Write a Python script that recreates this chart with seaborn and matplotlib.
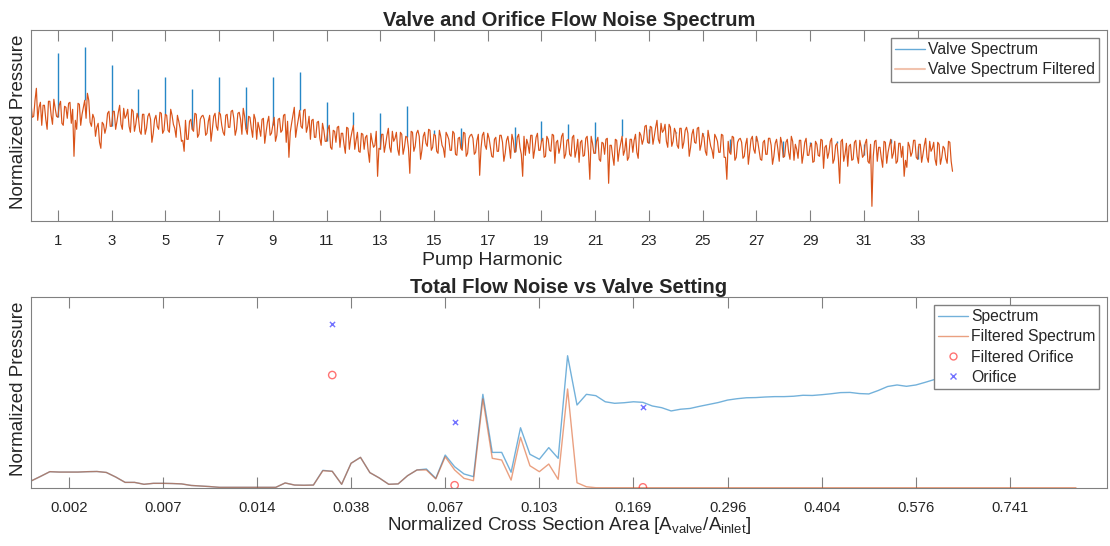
import numpy as np
import pandas as pd
import matplotlib
matplotlib.use("Agg")
import matplotlib.pyplot as plt
import seaborn as sns
from matplotlib.lines import Line2D

# ---------------- top panel data ----------------
harmonic_step = 0.05  # spectral resolution in pump harmonics
filtered_levels = [
    118, 104, 105, 121, 133, 101, 114, 119, 96, 116, 116, 102, 92, 120, 120, 106, 97, 122, 113, 105,
    104, 116, 120, 98, 96, 115, 114, 103, 118, 119, 98, 112, 65, 101, 92, 118, 117, 96, 107, 114,
    121, 103, 128, 121, 99, 95, 107, 103, 85, 94, 98, 79, 73, 99, 97, 88, 94, 108, 110, 95,
    95, 110, 110, 92, 100, 109, 116, 97, 92, 113, 103, 106, 112, 95, 89, 112, 110, 90, 97, 108,
    103, 90, 87, 107, 107, 87, 93, 105, 108, 102, 79, 88, 102, 106, 95, 92, 109, 108, 88, 91,
    107, 106, 91, 89, 112, 106, 97, 93, 84, 106, 100, 93, 80, 81, 70, 101, 82, 82, 100, 102,
    92, 90, 108, 107, 84, 87, 102, 105, 106, 102, 86, 88, 100, 106, 80, 92, 105, 108, 95, 91,
    109, 107, 96, 89, 86, 106, 107, 94, 94, 110, 111, 103, 86, 92, 108, 109, 102, 87, 113, 105,
    92, 87, 105, 104, 93, 84, 107, 102, 82, 99, 93, 85, 102, 103, 78, 89, 99, 105, 86, 88,
    96, 104, 80, 86, 102, 103, 89, 91, 106, 107, 79, 100, 64, 89, 98, 106, 114, 84, 94, 102,
    111, 95, 93, 111, 112, 89, 95, 105, 82, 101, 102, 84, 84, 99, 100, 83, 76, 98, 91, 80,
    80, 92, 96, 74, 72, 91, 90, 79, 94, 95, 74, 88, 88, 77, 68, 94, 93, 72, 83, 90,
    96, 72, 81, 89, 70, 69, 88, 87, 72, 84, 86, 70, 59, 88, 80, 74, 76, 90, 45, 73,
    72, 87, 87, 69, 77, 86, 93, 74, 69, 90, 80, 83, 89, 72, 66, 89, 87, 67, 74, 85,
    84, 73, 48, 90, 89, 70, 75, 88, 91, 85, 62, 71, 85, 89, 78, 75, 92, 91, 71, 74,
    87, 86, 70, 68, 91, 85, 76, 73, 64, 89, 86, 82, 71, 71, 90, 88, 67, 66, 83, 84,
    73, 71, 89, 88, 65, 68, 83, 86, 87, 83, 67, 69, 81, 87, 46, 73, 86, 89, 76, 72,
    88, 83, 74, 65, 64, 82, 84, 70, 70, 86, 86, 79, 60, 68, 81, 85, 75, 63, 87, 81,
    69, 70, 84, 87, 74, 67, 45, 85, 66, 82, 77, 68, 86, 86, 63, 72, 84, 88, 71, 71,
    80, 83, 64, 65, 85, 82, 71, 70, 87, 86, 58, 79, 81, 68, 74, 85, 88, 63, 67, 81,
    82, 67, 65, 84, 86, 64, 71, 82, 59, 79, 81, 65, 66, 83, 85, 69, 42, 85, 78, 68,
    68, 80, 84, 62, 60, 79, 78, 67, 82, 83, 38, 76, 76, 65, 56, 82, 81, 60, 71, 78,
    85, 66, 71, 83, 61, 64, 82, 82, 69, 81, 87, 69, 63, 89, 86, 77, 82, 95, 96, 79,
    78, 95, 94, 77, 85, 94, 101, 82, 78, 98, 89, 91, 97, 80, 74, 97, 94, 75, 80, 93,
    89, 76, 73, 93, 93, 73, 79, 91, 94, 88, 65, 74, 87, 92, 79, 78, 93, 94, 71, 77,
    88, 84, 70, 66, 91, 83, 75, 71, 63, 87, 84, 80, 69, 69, 87, 86, 64, 64, 42, 80,
    69, 67, 85, 84, 61, 64, 79, 82, 83, 79, 63, 65, 77, 83, 57, 69, 82, 85, 72, 68,
    85, 80, 71, 62, 61, 79, 81, 67, 67, 83, 83, 76, 57, 65, 78, 82, 72, 60, 84, 78,
    64, 65, 79, 82, 69, 62, 85, 80, 61, 77, 72, 63, 81, 81, 58, 67, 79, 83, 66, 66,
    75, 78, 59, 60, 80, 77, 66, 65, 82, 81, 53, 74, 76, 63, 69, 80, 83, 58, 62, 76,
    78, 63, 38, 80, 82, 60, 67, 78, 55, 75, 77, 61, 62, 79, 81, 65, 58, 81, 74, 64,
    66, 78, 82, 60, 58, 77, 15, 65, 80, 81, 60, 74, 74, 63, 54, 80, 79, 58, 69, 76,
    82, 63, 68, 80, 58, 60, 78, 78, 64, 75, 45, 61, 54, 79, 75, 65, 69, 81, 81, 64,
    62, 77, 77, 59, 67, 76, 83, 64, 59, 80, 70, 73, 79, 62, 56, 79, 77, 57, 64, 75,
    73, 63, 58, 80, 79, 60, 50,
]
harmonics = list(range(1, 35))
spike_levels = [168, 174, 156, 132, 144, 132, 144, 134, 144, 149,
                119, 109, 108, 115, 91, 93, 88, 94, 100, 97,
                99, 102, 92, 88, 87, 82, 80, 80, 79, 80,
                77, 78, 75, 73]
top_ticks = list(range(1, 35, 2))

# ---------------- bottom panel data ----------------
area_labels = ["0.002", "0.007", "0.014", "0.038", "0.067", "0.103",
               "0.169", "0.296", "0.404", "0.576", "0.741"]
spectrum = [
    0.038, 0.062, 0.087, 0.085, 0.085, 0.085, 0.087, 0.088, 0.083, 0.059,
    0.031, 0.031, 0.021, 0.026, 0.026, 0.025, 0.023, 0.015, 0.012, 0.009,
    0.005, 0.005, 0.005, 0.005, 0.005, 0.005, 0.005, 0.028, 0.017, 0.016,
    0.017, 0.094, 0.089, 0.021, 0.131, 0.162, 0.082, 0.054, 0.021, 0.023,
    0.066, 0.096, 0.101, 0.052, 0.174, 0.113, 0.075, 0.061, 0.492, 0.188,
    0.188, 0.084, 0.317, 0.178, 0.152, 0.213, 0.157, 0.694, 0.436, 0.492,
    0.485, 0.453, 0.445, 0.448, 0.453, 0.450, 0.431, 0.422, 0.405, 0.414,
    0.418, 0.429, 0.439, 0.449, 0.462, 0.469, 0.474, 0.475, 0.478, 0.480,
    0.480, 0.482, 0.487, 0.486, 0.490, 0.495, 0.501, 0.502, 0.496, 0.494,
    0.512, 0.533, 0.541, 0.534, 0.541, 0.555, 0.570, 0.575, 0.580, 0.585,
    0.590, 0.593, 0.596, 0.600, 0.600, 0.605, 0.610, 0.612, 0.615, 0.620,
    0.620, 0.625,
]
filtered_spectrum = [
    0.038, 0.062, 0.087, 0.085, 0.085, 0.085, 0.087, 0.088, 0.083, 0.059,
    0.031, 0.031, 0.021, 0.026, 0.026, 0.025, 0.023, 0.015, 0.012, 0.009,
    0.005, 0.005, 0.005, 0.005, 0.005, 0.005, 0.005, 0.028, 0.017, 0.016,
    0.017, 0.092, 0.089, 0.021, 0.131, 0.162, 0.082, 0.054, 0.021, 0.023,
    0.066, 0.096, 0.096, 0.049, 0.165, 0.096, 0.052, 0.040, 0.468, 0.157,
    0.148, 0.043, 0.267, 0.118, 0.087, 0.127, 0.047, 0.520, 0.029, 0.008,
    0.003, 0.003, 0.003, 0.003, 0.003, 0.003, 0.003, 0.003, 0.003, 0.003,
    0.003, 0.003, 0.003, 0.003, 0.003, 0.003, 0.003, 0.003, 0.003, 0.003,
    0.003, 0.003, 0.003, 0.003, 0.003, 0.003, 0.003, 0.003, 0.003, 0.003,
    0.003, 0.003, 0.003, 0.003, 0.003, 0.003, 0.003, 0.003, 0.003, 0.003,
    0.003, 0.003, 0.003, 0.003, 0.003, 0.003, 0.003, 0.003, 0.003, 0.003,
    0.003, 0.003,
]
orifice_setting = [32, 45, 65]
orifice = [0.859, 0.349, 0.427]
filtered_orifice = [0.593, 0.016, 0.005]

# ---------------- styling ----------------
sns.set_style("white")
plt.rcParams["font.family"] = ["Liberation Sans", "DejaVu Sans"]
plt.rcParams["mathtext.fontset"] = "custom"
plt.rcParams["mathtext.rm"] = "Liberation Sans"
plt.rcParams["mathtext.it"] = "Liberation Sans:italic"

BLUE = "#0072BD"
ORANGE = "#D95319"
GRAY = "#808080"
TXT = "#262626"

W, H = 1110, 546
fig = plt.figure(figsize=(W / 100, H / 100), dpi=100)
ax1 = fig.add_axes([31 / W, (H - 221.3) / H, 1076 / W, 191 / H])
ax2 = fig.add_axes([31 / W, (H - 488.3) / H, 1076 / W, 191 / H])

# ---------------- top panel ----------------
df_top = pd.DataFrame({"harmonic": np.arange(len(filtered_levels)) * harmonic_step,
                       "level": filtered_levels})
base_levels = [filtered_levels[int(round(h / harmonic_step))] for h in harmonics]
ax1.vlines(harmonics, base_levels, spike_levels, color=BLUE, lw=1.0, alpha=0.85, zorder=1)
sns.lineplot(data=df_top, x="harmonic", y="level", ax=ax1, color=ORANGE, lw=0.85,
             estimator=None, sort=False, zorder=2)
ax1.set_xlim(0, 40.05)
ax1.set_ylim(0, 191)
ax1.set_xticks(top_ticks)
ax1.set_xticklabels([str(t) for t in top_ticks])
ax1.set_title("Valve and Orifice Flow Noise Spectrum", fontsize=14.5, fontweight="bold", pad=3)
ax1.set_xlabel("Pump Harmonic", fontsize=14, color=TXT)
ax1.xaxis.set_label_coords((492 - 31) / 1076, -0.16)
h_top = [Line2D([], [], color=BLUE, alpha=0.6, lw=1.0),
         Line2D([], [], color=ORANGE, alpha=0.35, lw=1.5)]
ax1.legend(h_top, ["Valve Spectrum", "Valve Spectrum Filtered"], loc="upper right",
           bbox_to_anchor=(1099.3 / W, 1 - 38.3 / H), bbox_transform=fig.transFigure,
           borderaxespad=0, frameon=True, fancybox=False, edgecolor=GRAY, framealpha=1,
           fontsize=11.3, handlelength=1.9, handletextpad=0.2, borderpad=0.26,
           labelspacing=0.325)

# ---------------- bottom panel ----------------
df_bot = pd.DataFrame({"setting": np.arange(len(spectrum)),
                       "Spectrum": spectrum, "Filtered": filtered_spectrum})
sns.lineplot(data=df_bot, x="setting", y="Spectrum", ax=ax2, color=BLUE, alpha=0.55,
             lw=1.0, estimator=None)
sns.lineplot(data=df_bot, x="setting", y="Filtered", ax=ax2, color=ORANGE, alpha=0.55,
             lw=1.0, estimator=None)
sns.scatterplot(x=orifice_setting, y=filtered_orifice, ax=ax2, marker="o", s=28,
                facecolor="none", edgecolor=(1, 0, 0, 0.55), linewidth=1.0, zorder=3)
sns.scatterplot(x=orifice_setting, y=orifice, ax=ax2, marker="x", s=14,
                color=(0, 0, 1, 0.55), linewidth=1.0, zorder=3)
ax2.set_xlim(0, 114.3)
ax2.set_ylim(0, 1)
ax2.set_xticks(list(range(4, 105, 10)))
ax2.set_xticklabels(area_labels)
ax2.set_title("Total Flow Noise vs Valve Setting", fontsize=14.5, fontweight="bold", pad=3)
ax2.set_xlabel(r"Normalized Cross Section Area [A$_{\mathrm{valve}}$/A$_{\mathrm{inlet}}$]",
               fontsize=13.5, color=TXT)
ax2.xaxis.set_label_coords(0.5, -0.14)
h_bot = [Line2D([], [], color=BLUE, alpha=0.55, lw=1.0),
         Line2D([], [], color=ORANGE, alpha=0.55, lw=1.0),
         Line2D([], [], ls="none", marker="o", mfc="none", mec=(1, 0, 0, 0.55), ms=5),
         Line2D([], [], ls="none", marker="x", color=(0, 0, 1, 0.55), ms=4)]
ax2.legend(h_bot, ["Spectrum", "Filtered Spectrum", "Filtered Orifice", "Orifice"],
           loc="upper right", bbox_to_anchor=(1099.3 / W, 1 - 305.3 / H),
           bbox_transform=fig.transFigure, borderaxespad=0, frameon=True, fancybox=False,
           edgecolor=GRAY, framealpha=1, fontsize=11.3, handlelength=1.9,
           handletextpad=0.2, borderpad=0.26, labelspacing=0.325)

for ax in (ax1, ax2):
    ax.set_yticks([])
    ax.set_ylabel("Normalized Pressure", fontsize=13.5, color=TXT)
    ax.yaxis.set_label_coords(-0.004, 0.52)
    for sp in ax.spines.values():
        sp.set_color(GRAY)
        sp.set_linewidth(0.8)
        sp.set_visible(True)
    ax.tick_params(axis="x", which="both", direction="in", top=True, bottom=True,
                   length=7.7, width=0.8, color=GRAY, labelsize=10.7, labelcolor=TXT, pad=9)

fig.savefig("out.png", dpi=100)
